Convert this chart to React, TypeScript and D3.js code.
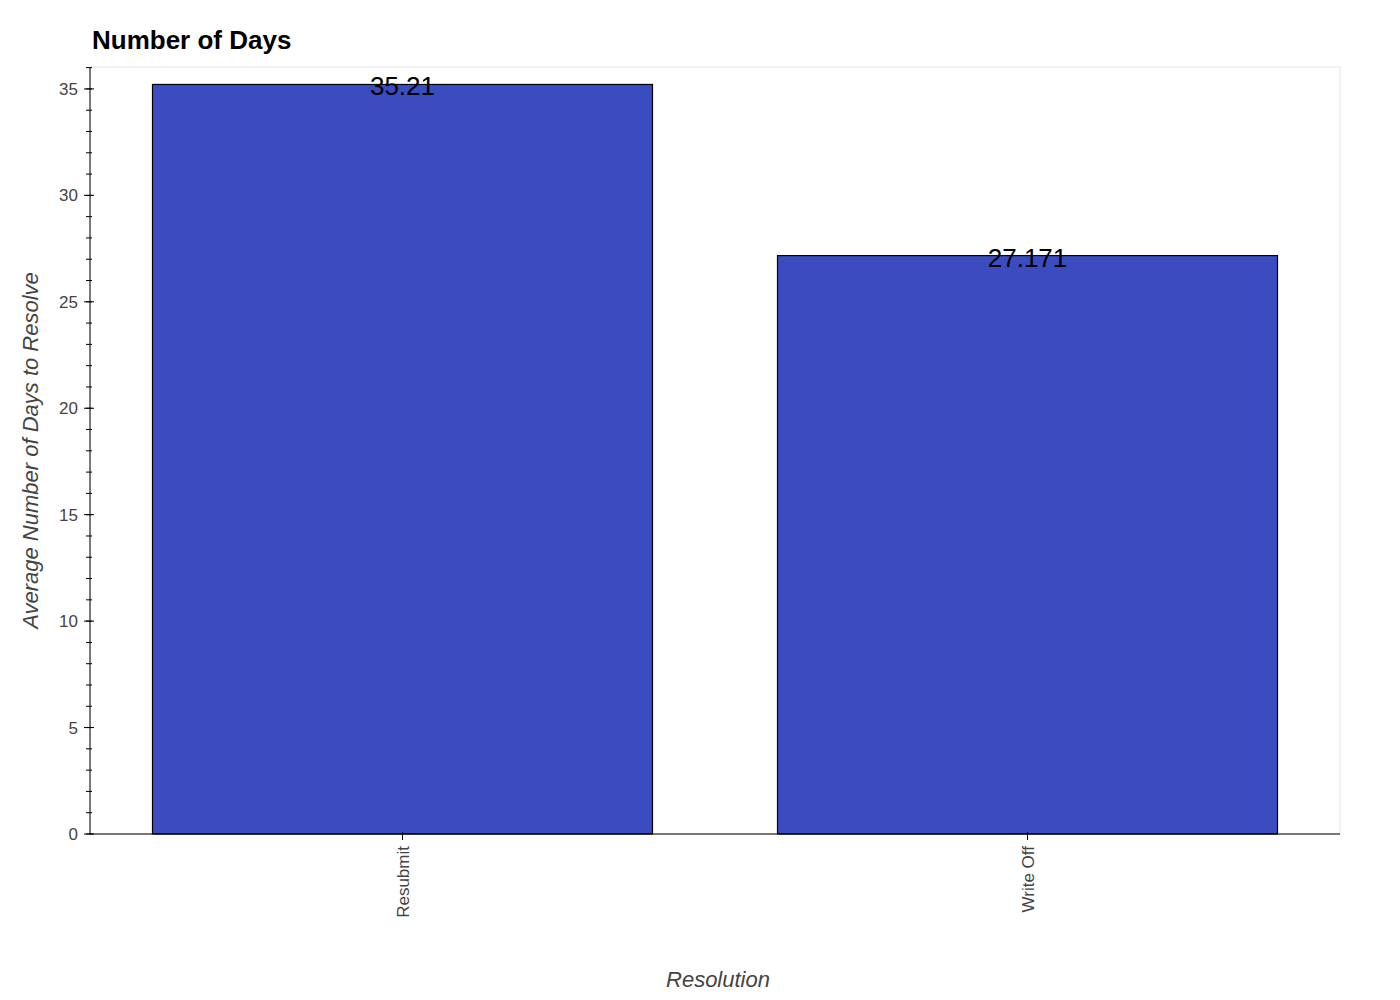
import React from "react";
import * as d3 from "d3";

const categories = ["Resubmit", "Write Off"];
const values = [35.21, 27.171];
const labels = ["35.21", "27.171"];
const yTicks = [0, 5, 10, 15, 20, 25, 30, 35];
const yMinor = d3.range(0, 37, 1);

export default function App() {
  const W = 1400, H = 1000;
  const left = 90, right = 1340, top = 67, bottom = 834;
  const x = d3.scaleBand<string>().domain(categories).range([left, right]).paddingInner(0.2).paddingOuter(0.1);
  const xc = d3.scalePoint<string>().domain(categories).range([left, right]).padding(0.5);
  const y = d3.scaleLinear().domain([0, 36.03]).range([bottom, top]);
  const font = "'Liberation Sans', Arial, Helvetica, sans-serif";
  const bw = 500;
  return (
    <svg width={W} height={H} style={{ position: "absolute", left: 0, top: 0, background: "#fff" }} fontFamily={font}>
      <rect x={left} y={top} width={right - left} height={bottom - top} fill="none" stroke="#e5e5e5" />
      <text x={92} y={49} fontSize={26} fontWeight="bold" fill="#000">Number of Days</text>
      {categories.map((c, i) => (
        <rect key={c} x={(xc(c) as number) - bw / 2} y={y(values[i])} width={bw} height={bottom - y(values[i])}
          fill="#3b4cc0" stroke="#000" strokeWidth={1.2} />
      ))}
      {categories.map((c, i) => (
        <text key={c} x={xc(c) as number} y={y(values[i]) + 11} fontSize={26} textAnchor="middle" fill="#000">{labels[i]}</text>
      ))}
      <line x1={left} x2={left} y1={top} y2={bottom} stroke="#000" />
      <line x1={left} x2={right} y1={bottom} y2={bottom} stroke="#000" />
      {yMinor.filter(v => y(v) >= top).map(v => (
        <line key={"m" + v} x1={left - 4} x2={left + 2} y1={y(v)} y2={y(v)} stroke="#000" />
      ))}
      {yTicks.map(v => (
        <g key={v}>
          <line x1={left - 6} x2={left + 4} y1={y(v)} y2={y(v)} stroke="#000" />
          <text x={left - 12} y={y(v)} dy="0.35em" fontSize={17} textAnchor="end" fill="#444">{v}</text>
        </g>
      ))}
      {categories.map(c => (
        <g key={c}>
          <line x1={xc(c) as number} x2={xc(c) as number} y1={bottom - 2} y2={bottom + 6} stroke="#000" />
          <text transform={`translate(${(xc(c) as number) + 6},${bottom + 12}) rotate(-90)`} fontSize={17} textAnchor="end" fill="#444">{c}</text>
        </g>
      ))}
      <text x={(left + right) / 2 + 3} y={987} fontSize={22} fontStyle="italic" textAnchor="middle" fill="#444">Resolution</text>
      <text transform={`translate(38,${(top + bottom) / 2}) rotate(-90)`} fontSize={22} fontStyle="italic" textAnchor="middle" fill="#444">Average Number of Days to Resolve</text>
    </svg>
  );
}
